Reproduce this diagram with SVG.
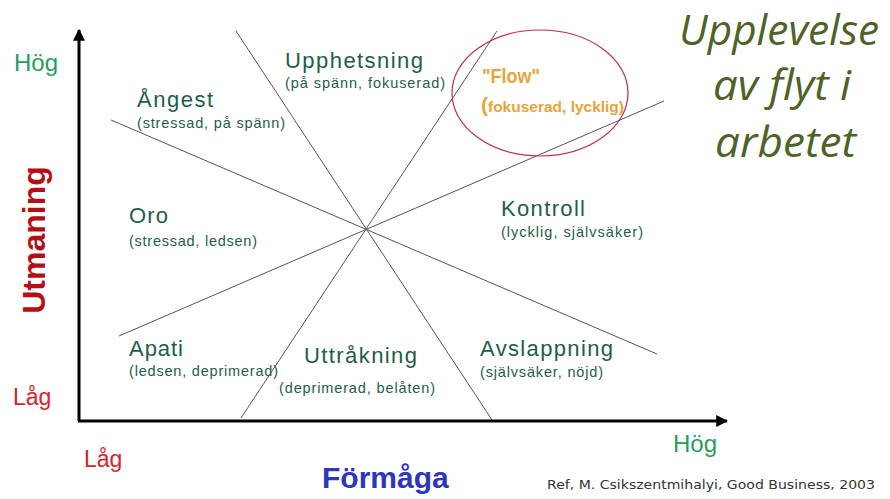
<svg xmlns="http://www.w3.org/2000/svg" width="890" height="499" viewBox="0 0 890 499">
<defs>
<marker id="ah" viewBox="0 0 10 10" refX="9" refY="5" markerWidth="4" markerHeight="4" orient="auto" markerUnits="strokeWidth">
<path d="M0,0 L10,5 L0,10 z" fill="#000"/>
</marker>
<style>
.t{font-family:"Liberation Sans",Arial,sans-serif;fill:#1e5e4a}
.big{font-size:22px}
.sm{font-size:14.5px}
.ln{stroke:#555;stroke-width:1;fill:none}
.red{font-family:"Liberation Sans",Arial,sans-serif;fill:#d9252a;font-size:23px}
.grn{font-family:"Liberation Sans",Arial,sans-serif;fill:#1fa05c;font-size:24px}
.ttl{font-family:"Open Sans","Noto Sans",sans-serif;font-style:italic;fill:#4f6228;font-size:42px}
.fl{font-family:"Liberation Sans",Arial,sans-serif;font-weight:bold;fill:#e9a33a}
</style>
</defs>
<rect width="890" height="499" fill="#fff"/>
<g id="connectors">
<line class="ln" x1="236" y1="31" x2="492" y2="420"/>
<line class="ln" x1="111" y1="120" x2="657" y2="354"/>
<line class="ln" x1="119" y1="336" x2="664" y2="101"/>
<line class="ln" x1="241" y1="418" x2="497" y2="31"/>
<line x1="79" y1="421" x2="79" y2="30" stroke="#000" stroke-width="3" marker-end="url(#ah)"/>
<line x1="78" y1="421" x2="727" y2="421" stroke="#000" stroke-width="3" marker-end="url(#ah)"/>
</g>
<g id="flow-ellipse">
<ellipse cx="540" cy="93" rx="88" ry="63" fill="none" stroke="#c03040" stroke-width="1.2"/>
</g>
<g id="axis-labels">
<text class="grn" x="14" y="71">Hög</text>
<text class="red" x="13" y="405">Låg</text>
<text class="red" x="84" y="467">Låg</text>
<text class="grn" x="673" y="452">Hög</text>
<text x="45" y="240" transform="rotate(-90 45 240)" text-anchor="middle" font-family="Liberation Sans,Arial,sans-serif" font-weight="bold" font-size="32" fill="#b40f14">Utmaning</text>
<text x="322" y="488" font-family="Liberation Sans,Arial,sans-serif" font-weight="bold" font-size="30" fill="#2e35c0">Förmåga</text>
<text x="547" y="489" font-family="DejaVu Sans,Verdana,sans-serif" font-size="13" fill="#333" textLength="328" lengthAdjust="spacingAndGlyphs">Ref, M. Csikszentmihalyi, Good Business, 2003</text>
</g>
<g id="upphetsning"><text class="t big" x="285" y="68" textLength="138">Upphetsning</text><text class="t sm" x="285" y="88" textLength="160">(på spänn, fokuserad)</text></g>
<g id="angest"><text class="t big" x="137" y="107" textLength="76">Ångest</text><text class="t sm" x="137" y="128" textLength="148">(stressad, på spänn)</text></g>
<g id="oro"><text class="t big" x="129" y="223" textLength="39">Oro</text><text class="t sm" x="129" y="246" textLength="128">(stressad, ledsen)</text></g>
<g id="apati"><text class="t big" x="129" y="356" textLength="54">Apati</text><text class="t sm" x="129" y="376" textLength="149">(ledsen, deprimerad)</text></g>
<g id="uttrakning"><text class="t big" x="304" y="363" textLength="113">Uttråkning</text><text class="t sm" x="279" y="393" textLength="156">(deprimerad, belåten)</text></g>
<g id="avslappning"><text class="t big" x="480" y="356" textLength="133">Avslappning</text><text class="t sm" x="480" y="377" textLength="123">(självsäker, nöjd)</text></g>
<g id="kontroll"><text class="t big" x="501" y="216" textLength="84">Kontroll</text><text class="t sm" x="501" y="237" textLength="142">(lycklig, självsäker)</text></g>
<g id="flow">
<text class="fl" x="482" y="83" font-size="21" textLength="58" lengthAdjust="spacingAndGlyphs">"Flow"</text>
<text class="fl" x="481" y="112" font-size="14"><tspan font-size="21">(</tspan><tspan textLength="136" lengthAdjust="spacingAndGlyphs">fokuserad, lycklig)</tspan></text>
</g>
<g id="title">
<text class="ttl" x="679" y="45" textLength="200" lengthAdjust="spacingAndGlyphs">Upplevelse</text>
<text class="ttl" x="713" y="100" textLength="138" lengthAdjust="spacingAndGlyphs">av flyt i</text>
<text class="ttl" x="715" y="157" textLength="141" lengthAdjust="spacingAndGlyphs">arbetet</text>
</g>
</svg>
